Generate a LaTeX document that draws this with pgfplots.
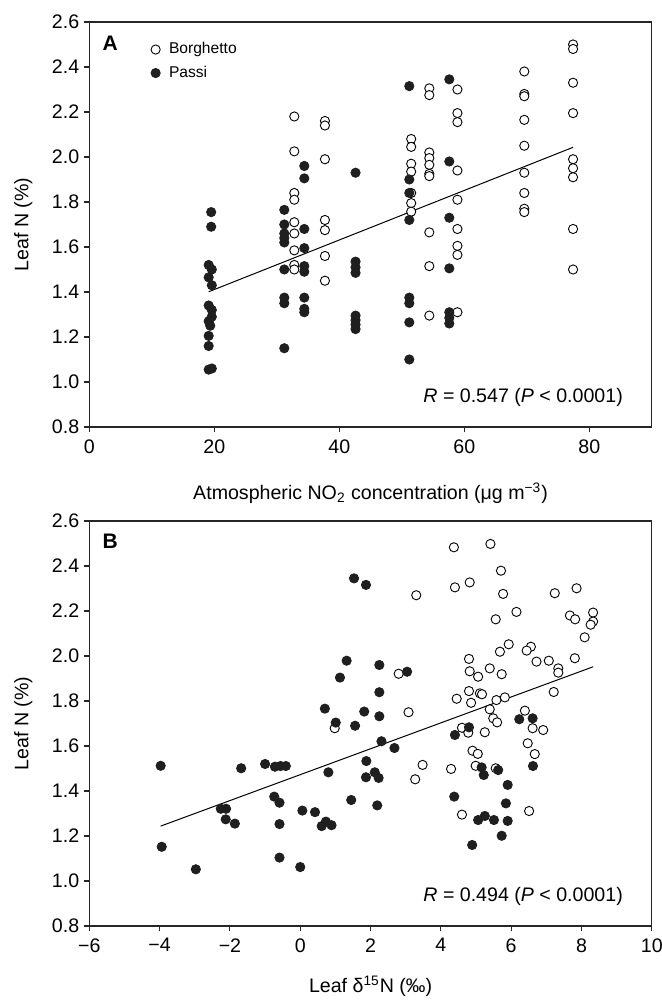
\documentclass[border=0pt]{standalone}
\usepackage{fontspec}
\setmainfont{Liberation Sans}
\usepackage{pgfplots}
\pgfplotsset{compat=1.18}

\pgfplotsset{
  myax/.style={
    scale only axis, width=281.25pt, height=202.5pt,
    anchor=south west,
    axis line style={black!85, line width=0.55pt},
    every tick/.style={black!85, line width=0.55pt},
    tick align=outside, xtick pos=bottom, ytick pos=left,
    major tick length=2.7pt,
    ymin=0.8, ymax=2.6,
    ytick={0.8,1.0,1.2,1.4,1.6,1.8,2.0,2.2,2.4,2.6},
    yticklabels={0.8,1.0,1.2,1.4,1.6,1.8,2.0,2.2,2.4,2.6},
    tick label style={font=\fontsize{9.8}{11}\selectfont},
    yticklabel style={xshift=1.2pt},
    label style={font=\fontsize{9.8}{11}\selectfont},
    xlabel style={at={(axis description cs:0.5,0)}, anchor=center, yshift=-33pt},
    ylabel style={at={(axis description cs:0,0.5)}, anchor=center, rotate=0, yshift=33pt},
    ylabel={Leaf N (\%)},
  },
  borg/.style={only marks, mark=*, mark size=2.3pt,
    mark options={fill=white, draw=black, line width=0.45pt}},
  passi/.style={only marks, mark=*, mark size=2.3pt,
    mark options={fill=black!88, draw=black!88, line width=0.45pt}},
  fitline/.style={no marks, black, line width=0.5pt},
}

\begin{document}
\begin{tikzpicture}
\useasboundingbox (0,0) rectangle (331pt,502pt);

% ---------------- Panel A ----------------
\begin{axis}[myax, at={(44.65pt,288.5pt)},
  xmin=0, xmax=90,
  xtick={0,20,40,60,80}, xticklabels={0,20,40,60,80},
  xlabel={Atmospheric NO\textsubscript{2} concentration (μg m\textsuperscript{−3})},
  legend style={at={(0.103,0.958)}, anchor=north west, draw=none, fill=none,
    inner sep=0pt, row sep=1.6pt,
    font=\fontsize{7.8}{9.4}\selectfont, nodes={inner sep=1.5pt}},
  legend cell align=left,
  legend image code/.code={%
    \draw[mark repeat=2,mark phase=2,#1] plot coordinates {(0pt,0pt)(4pt,0pt)(8pt,0pt)};
    \path[draw=none,fill=none] (0pt,-0.1pt) rectangle (9.2pt,0.1pt);},
]
\addplot[borg] coordinates {
(32.8,2.18)(32.8,2.025)(32.8,1.84)(32.8,1.81)(32.8,1.71)(32.8,1.66)(32.8,1.585)(32.8,1.52)(32.8,1.50)
(37.7,2.16)(37.7,2.14)(37.7,1.99)(37.7,1.72)(37.7,1.675)(37.7,1.56)(37.7,1.45)
(51.5,2.08)(51.5,2.045)(51.5,1.97)(51.5,1.935)(51.5,1.84)(51.5,1.795)(51.5,1.757)
(54.4,2.305)(54.4,2.275)(54.4,2.02)(54.4,1.995)(54.4,1.965)(54.4,1.925)(54.4,1.915)(54.4,1.665)(54.4,1.515)(54.4,1.295)
(58.9,2.30)(58.9,2.195)(58.9,2.155)(58.9,1.94)(58.9,1.81)(58.9,1.68)(58.9,1.605)(58.9,1.565)(58.9,1.31)
(69.6,2.38)(69.6,2.28)(69.6,2.27)(69.6,2.165)(69.6,2.05)(69.6,1.93)(69.6,1.84)(69.6,1.77)(69.6,1.755)
(77.4,2.50)(77.4,2.48)(77.4,2.33)(77.4,2.195)(77.4,1.99)(77.4,1.95)(77.4,1.91)(77.4,1.68)(77.4,1.50)
};
\addlegendentry{Borghetto}
\addplot[passi] coordinates {
(19.5,1.755)(19.5,1.69)(19.1,1.52)(19.6,1.50)(19.1,1.465)(19.6,1.43)(19.1,1.34)(19.6,1.32)(19.6,1.29)(19.1,1.27)(19.35,1.25)(19.1,1.205)(19.1,1.16)(19.1,1.055)(19.6,1.06)
(31.2,1.765)(31.2,1.70)(31.2,1.66)(31.2,1.64)(31.2,1.62)(31.2,1.50)(31.2,1.375)(31.2,1.35)(31.2,1.15)
(34.4,1.96)(34.4,1.905)(34.4,1.68)(34.4,1.595)(34.4,1.515)(34.4,1.49)(34.4,1.375)(34.4,1.325)(34.4,1.31)
(42.6,1.93)(42.6,1.535)(42.6,1.51)(42.6,1.485)(42.6,1.295)(42.6,1.275)(42.6,1.255)(42.6,1.235)
(51.2,2.315)(51.2,1.90)(51.2,1.84)(51.2,1.72)(51.2,1.375)(51.2,1.35)(51.2,1.265)(51.2,1.10)
(57.6,2.345)(57.6,1.98)(57.6,1.73)(57.6,1.505)(57.6,1.31)(57.6,1.285)(57.6,1.26)
};
\addlegendentry{Passi}
\addplot[fitline, forget plot] coordinates {(19.1,1.401)(77.4,2.043)};
\node[anchor=center, font=\fontsize{10.5}{12}\selectfont\bfseries] at (rel axis cs:0.037,0.948) {A};
\node[anchor=east, font=\fontsize{9.8}{11}\selectfont] at (rel axis cs:0.961,0.072) {\textit{R} = 0.547 (\textit{P} < 0.0001)};
\end{axis}

% ---------------- Panel B ----------------
\begin{axis}[myax, at={(44.65pt,39pt)},
  xmin=-6, xmax=10,
  xtick={-6,-4,-2,0,2,4,6,8,10}, xticklabels={−6,−4,−2,0,2,4,6,8,10},
  xlabel={Leaf δ\textsuperscript{15}N (‰)},
  xlabel style={yshift=3pt},
]
\addplot[borg] coordinates {
(4.37,2.483)(4.40,2.305)(4.82,2.327)(3.30,2.27)(2.80,1.921)(3.08,1.75)(0.98,1.679)(3.48,1.516)(3.27,1.452)(4.29,1.498)(4.60,1.295)(4.45,1.81)(4.80,1.987)(4.82,1.932)(4.80,1.844)(4.86,1.792)(4.60,1.681)(4.78,1.659)(4.90,1.579)(5.05,1.565)(4.99,1.512)
(5.41,2.498)(5.71,2.379)(5.77,2.276)(6.15,2.196)(5.56,2.163)(7.24,2.279)(7.86,2.301)(7.67,2.18)(7.82,2.163)(8.33,2.193)(8.33,2.153)(8.26,2.139)(8.09,2.083)(5.93,2.052)(5.68,2.019)(6.56,2.041)(6.44,2.024)(6.72,1.975)(7.07,1.979)(7.34,1.945)(7.34,1.926)(7.81,1.99)(7.21,1.84)(5.39,1.945)(5.06,1.908)(5.73,1.919)(5.11,1.834)(5.17,1.83)(5.58,1.804)(5.82,1.816)(5.39,1.763)(5.49,1.723)(5.60,1.705)(5.25,1.661)(6.39,1.757)(6.61,1.679)(6.91,1.671)(6.47,1.612)(6.67,1.564)(5.56,1.501)(6.51,1.311)
};
\addplot[passi] coordinates {
(-3.97,1.512)(-3.94,1.152)(-2.97,1.052)(-1.68,1.501)(-1.00,1.52)(-0.72,1.508)(-0.56,1.511)(-0.41,1.511)(-2.26,1.321)(-2.11,1.321)(-2.12,1.274)(-1.86,1.255)(-0.74,1.375)(-0.59,1.348)(-0.59,1.253)(-0.59,1.104)(0.06,1.313)(0.0,1.062)
(1.53,2.345)(1.87,2.316)(1.32,1.979)(2.25,1.96)(1.13,1.904)(3.04,1.93)(2.25,1.839)(0.70,1.766)(1.82,1.753)(2.25,1.732)(1.01,1.704)(1.56,1.69)(2.31,1.621)(2.68,1.591)(0.80,1.483)(1.88,1.533)(1.87,1.461)(2.12,1.483)(2.23,1.458)(1.45,1.36)(2.19,1.336)(0.42,1.306)(0.61,1.244)(0.73,1.264)(0.89,1.248)
(4.40,1.649)(4.80,1.683)(4.38,1.375)(4.89,1.16)(6.23,1.719)(6.61,1.723)(6.62,1.511)(5.16,1.505)(5.63,1.493)(5.22,1.471)(5.90,1.427)(5.85,1.345)(5.06,1.271)(5.25,1.289)(5.51,1.271)(5.90,1.267)(5.73,1.201)
};
\addplot[fitline] coordinates {(-3.97,1.244)(8.33,1.952)};
\node[anchor=center, font=\fontsize{10.5}{12}\selectfont\bfseries] at (rel axis cs:0.037,0.949) {B};
\node[anchor=east, font=\fontsize{9.8}{11}\selectfont] at (rel axis cs:0.961,0.072) {\textit{R} = 0.494 (\textit{P} < 0.0001)};
\end{axis}
\end{tikzpicture}
\end{document}
